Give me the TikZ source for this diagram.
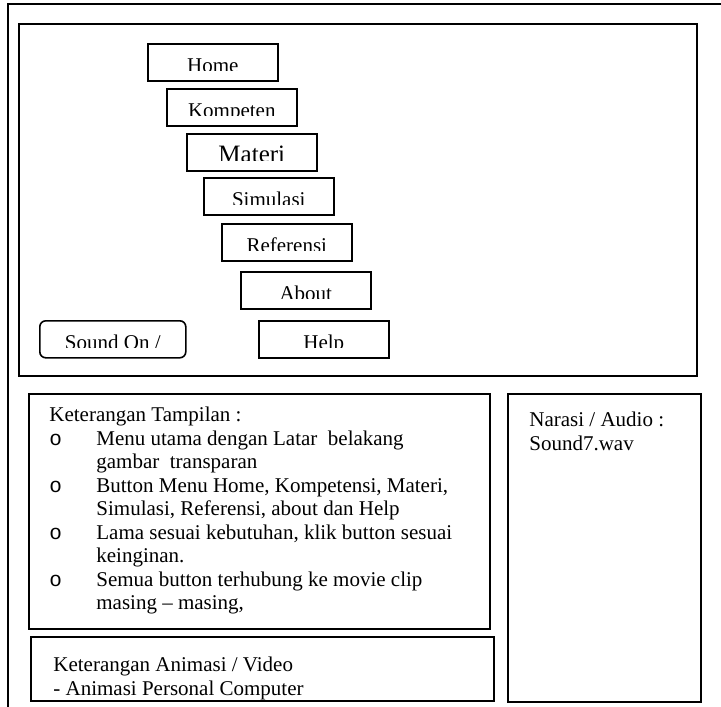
\documentclass[tikz,border=0pt]{standalone}
\usepackage{fontspec}
\setmainfont{Liberation Serif}
\newfontfamily\bulletfont{Liberation Mono}
\usetikzlibrary{positioning}

\tikzset{
  frame/.style={draw, line width=0.8pt},
  menubtn/.style={draw, line width=0.8pt, anchor=north west, inner sep=0pt,
    minimum width=65pt, minimum height=18.5pt},
  infotext/.style={anchor=north west, inner sep=0pt, align=left,
    font=\fontsize{10.5}{11.75}\selectfont},
}
% name, x, y, label, extra options
\newcommand{\menubutton}[5]{%
  \node[menubtn,#5,path picture={%
    \clip ([yshift=5pt]path picture bounding box.south west)
      rectangle (path picture bounding box.north east);
    \node[anchor=base,font=\fontsize{10.5}{10.5}\selectfont]
      at ([yshift=4.25pt]path picture bounding box.south) {#4};}]
    (#1) at (#2,#3) {};}
\newcommand{\bul}{\makebox[23.5pt][l]{\bulletfont o}}
\newcommand{\ind}{\hspace*{23.5pt}}

\begin{document}
\begin{tikzpicture}[x=0.5pt,y=-0.5pt]
  \useasboundingbox (0,0) rectangle (721,706);
  \clip (0,0) rectangle (721,706);
  % outer page frame
  \draw[line width=0.6pt] (8,720) -- (8,4) -- (730,4);
  % screen area with menu buttons
  \draw[frame] (19,24) rectangle (697,376);
  \menubutton{home}{147}{43}{Home}{}
  \menubutton{kompeten}{166}{88}{Kompeten}{}
  \menubutton{materi}{186}{133}{\fontsize{12.5}{12.5}\selectfont Materi}{}
  \menubutton{simulasi}{203}{177}{Simulasi}{}
  \menubutton{referensi}{221}{223}{Referensi}{}
  \menubutton{about}{240}{271}{About}{}
  \menubutton{help}{258}{320}{Help}{}
  \menubutton{sound}{39}{320}{Sound On /}{minimum width=73pt, rounded corners=3pt}
  % keterangan tampilan
  \draw[frame] (29,394) rectangle (490,629);
  \node[infotext] (tampilan) at (49,407) {Keterangan Tampilan :\\
    \bul Menu utama dengan Latar\ \ belakang\\
    \ind gambar\ \ transparan\\
    \bul Button Menu Home, Kompetensi, Materi,\\
    \ind Simulasi, Referensi, about dan Help\\
    \bul Lama sesuai kebutuhan, klik button sesuai\\
    \ind keinginan.\\
    \bul Semua button terhubung ke movie clip\\
    \ind masing -- masing,};
  % keterangan animasi
  \draw[frame] (31,637) rectangle (494,701);
  \node[infotext] (animasi) at (53,657) {Keterangan Animasi / Video\\
    - Animasi Personal Computer};
  % narasi
  \draw[frame] (508,394) rectangle (701,702);
  \node[infotext] (narasi) at (529,412) {Narasi / Audio :\\Sound7.wav};
\end{tikzpicture}
\end{document}
